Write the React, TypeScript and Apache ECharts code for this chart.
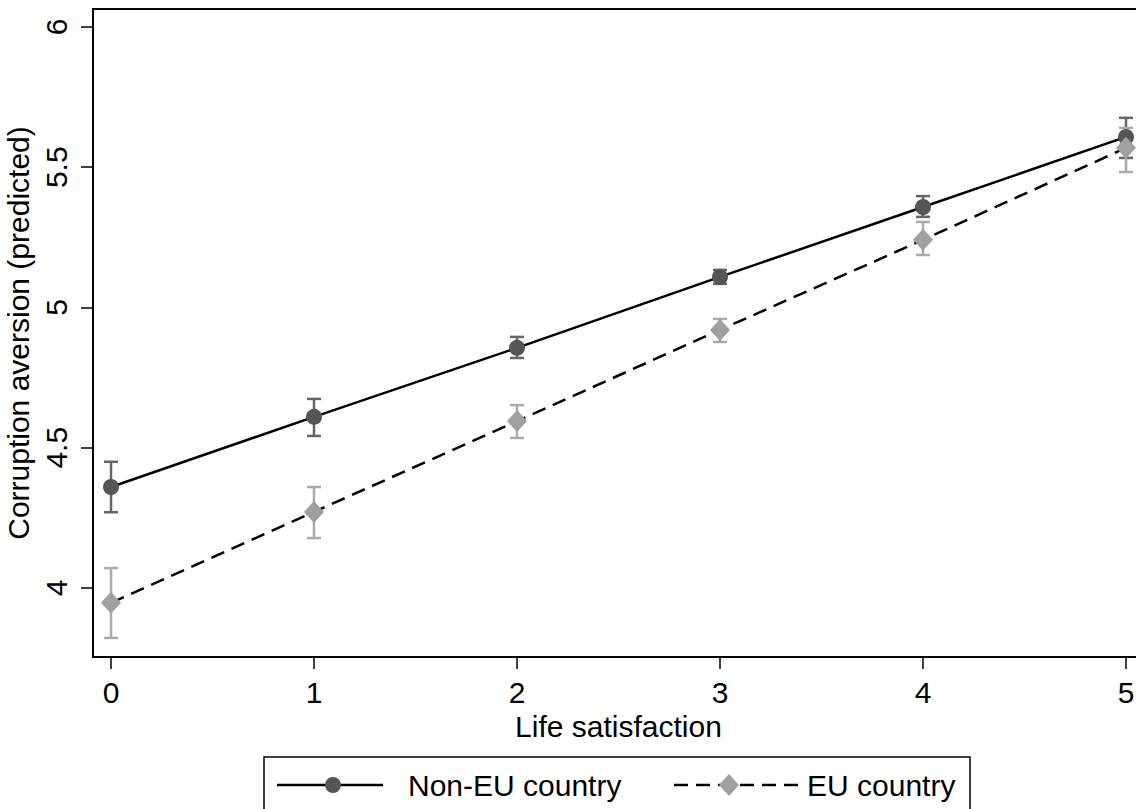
import React, { useEffect, useRef } from "react";
import * as echarts from "echarts";

const lifeSatisfaction = [0, 1, 2, 3, 4, 5];
const nonEuMean = [4.36, 4.61, 4.856, 5.109, 5.358, 5.608];
const nonEuLow = [4.27, 4.542, 4.82, 5.084, 5.323, 5.533];
const nonEuHigh = [4.45, 4.674, 4.895, 5.134, 5.397, 5.676];
const euMean = [3.947, 4.271, 4.595, 4.92, 5.241, 5.569];
const euLow = [3.822, 4.178, 4.535, 4.877, 5.187, 5.483];
const euHigh = [4.071, 4.36, 4.652, 4.959, 5.305, 5.64];
const xTicks = [0, 1, 2, 3, 4, 5];
const yTicks = [4, 4.5, 5, 5.5, 6];
const seriesNames = ["Non-EU country", "EU country"];
const xTitle = "Life satisfaction";
const yTitle = "Corruption aversion (predicted)";

const FONT = "'Liberation Sans', Arial, sans-serif";
const FS = 30;

function errorBars(name: string, lo: number[], hi: number[], color: string, z: number) {
  return {
    type: "custom",
    name: name + " CI",
    z,
    clip: false,
    silent: true,
    encode: { x: 0, y: [1, 2] },
    data: lifeSatisfaction.map((x, i) => [x, lo[i], hi[i]]),
    renderItem: (params: any, api: any) => {
      const x = api.value(0);
      const pLo = api.coord([x, api.value(1)]);
      const pHi = api.coord([x, api.value(2)]);
      const half = 7;
      const style = { stroke: color, lineWidth: 2.5, fill: "none" };
      return {
        type: "group",
        children: [
          { type: "line", shape: { x1: pLo[0], y1: pLo[1], x2: pHi[0], y2: pHi[1] }, style },
          { type: "line", shape: { x1: pLo[0] - half, y1: pLo[1], x2: pLo[0] + half, y2: pLo[1] }, style },
          { type: "line", shape: { x1: pHi[0] - half, y1: pHi[1], x2: pHi[0] + half, y2: pHi[1] }, style },
        ],
      };
    },
  };
}

export default function App() {
  const ref = useRef<HTMLDivElement>(null);
  useEffect(() => {
    if (!ref.current) return;
    const chart = echarts.init(ref.current, null, { renderer: "svg" });
    const legendY = 785;
    chart.setOption({
      animation: false,
      backgroundColor: "#fff",
      textStyle: { fontFamily: FONT },
      grid: {
        left: 93,
        top: 9,
        right: -8,
        bottom: 152,
        containLabel: false,
        outerBoundsMode: "none",
        show: true,
        borderColor: "#000",
        borderWidth: 2,
        backgroundColor: "transparent",
      },
      xAxis: {
        type: "value",
        min: -0.0887,
        max: 5.0887,
        name: xTitle,
        nameLocation: "middle",
        nameGap: 41,
        nameTextStyle: { color: "#000", fontSize: FS, fontFamily: FONT },
        axisLine: { show: true, onZero: false, lineStyle: { color: "#000", width: 2 } },
        axisTick: { show: true, length: 12, customValues: xTicks, lineStyle: { color: "#000", width: 1.5 } },
        axisLabel: { customValues: xTicks, color: "#000", fontSize: FS, fontFamily: FONT, margin: 20 },
        splitLine: { show: false },
      },
      yAxis: {
        type: "value",
        min: 3.754,
        max: 6.064,
        name: yTitle,
        nameLocation: "middle",
        nameGap: 55,
        nameRotate: 90,
        nameTextStyle: { color: "#000", fontSize: FS, fontFamily: FONT },
        axisLine: { show: true, onZero: false, lineStyle: { color: "#000", width: 2 } },
        axisTick: { show: true, length: 12, customValues: yTicks, lineStyle: { color: "#000", width: 1.5 } },
        axisLabel: { customValues: yTicks, rotate: 90, color: "#000", fontSize: FS, fontFamily: FONT, margin: 22 },
        splitLine: { show: false },
      },
      series: [
        errorBars(seriesNames[0], nonEuLow, nonEuHigh, "#666666", 1),
        errorBars(seriesNames[1], euLow, euHigh, "#aaaaaa", 1),
        {
          type: "line",
          name: seriesNames[0],
          z: 2,
          clip: false,
          data: lifeSatisfaction.map((x, i) => [x, nonEuMean[i]]),
          symbol: "circle",
          symbolSize: 16,
          itemStyle: { color: "#555555" },
          lineStyle: { color: "#000", width: 2.5 },
        },
        {
          type: "line",
          name: seriesNames[1],
          z: 3,
          clip: false,
          data: lifeSatisfaction.map((x, i) => [x, euMean[i]]),
          symbol: "diamond",
          symbolSize: [20, 22],
          itemStyle: { color: "#a0a0a0" },
          lineStyle: { color: "#000", width: 2.5, type: [14, 8] },
        },
      ],
      graphic: [
        {
          type: "rect",
          shape: { x: 264, y: 757, width: 706, height: 80 },
          style: { fill: "#fff", stroke: "#000", lineWidth: 1.5 },
          z: 10,
        },
        {
          type: "line",
          shape: { x1: 277, y1: legendY, x2: 383, y2: legendY },
          style: { stroke: "#000", lineWidth: 2.5 },
          z: 11,
        },
        { type: "circle", shape: { cx: 333, cy: legendY, r: 8 }, style: { fill: "#555555" }, z: 12 },
        {
          type: "text",
          x: 408,
          y: legendY,
          style: { text: seriesNames[0], fill: "#000", font: `${FS}px ${FONT}`, verticalAlign: "middle", align: "left" },
          z: 12,
        },
        {
          type: "line",
          shape: { x1: 674, y1: legendY, x2: 800, y2: legendY },
          style: { stroke: "#000", lineWidth: 2.5, lineDash: [14, 8] },
          z: 11,
        },
        {
          type: "polygon",
          shape: { points: [[729, legendY - 11], [739, legendY], [729, legendY + 11], [719, legendY]] },
          style: { fill: "#a0a0a0" },
          z: 12,
        },
        {
          type: "text",
          x: 807,
          y: legendY,
          style: { text: seriesNames[1], fill: "#000", font: `${FS}px ${FONT}`, verticalAlign: "middle", align: "left" },
          z: 12,
        },
      ],
    });
    return () => chart.dispose();
  }, []);
  return <div ref={ref} style={{ position: "fixed", left: 0, top: 0, width: 1136, height: 809 }} />;
}
